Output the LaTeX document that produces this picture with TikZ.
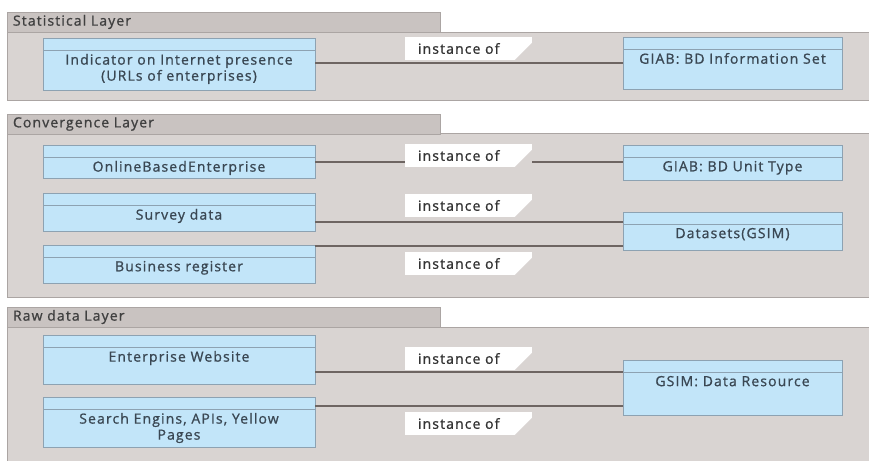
\documentclass[tikz,border=0pt]{standalone}
\usepackage{fontspec}
\setmainfont{Open Sans}[LetterSpace=8,FakeBold=1]
\definecolor{layerfill}{HTML}{D9D4D2}
\definecolor{tabfill}{HTML}{C9C3C1}
\definecolor{layerline}{HTML}{ABA5A3}
\definecolor{clsfill}{HTML}{C2E5F9}
\definecolor{clsline}{HTML}{8DA2B2}
\definecolor{clstext}{HTML}{3A4753}
\definecolor{assoc}{HTML}{6E6562}

\begin{document}
\begin{tikzpicture}
[x=1pt,y=-1pt,
every node/.style={inner sep=0pt,outer sep=0pt,font=\fontsize{14}{16}\selectfont},
layer/.style={fill=layerfill,draw=layerline,line width=.8pt,anchor=north west,minimum width=863pt},
tab/.style={fill=tabfill,draw=layerline,line width=.8pt,anchor=north west,minimum height=20pt,
  text width=421pt,inner xsep=6pt,align=left,text=black!75},
cls/.style={draw=clsline,fill=clsfill,line width=.8pt,anchor=north west,
  label={[clslabel]north:{#1}},
  path picture={\draw[clsline,line width=.8pt]
    ([yshift=-12pt]path picture bounding box.north west) --
    ([yshift=-12pt]path picture bounding box.north east);}},
clslabel/.style={anchor=north,yshift=-16pt,align=center,text=clstext},
inst/.style={fill=white,minimum height=23pt,text width=101pt,inner xsep=13pt,align=left,
  text=black!80,pos=.292,
  path picture={\fill[layerfill] (path picture bounding box.south east) -- ++(-17pt,0pt) -- ++(17pt,17pt) -- cycle;}},
assocline/.style={draw=assoc,line width=1.4pt},
]
\useasboundingbox (0,0) rectangle (869,460);

\node[layer,minimum height=68pt] (statl) at (7,32) {};
\node[tab] (stattab) at (7,12) {Statistical Layer};
\node[layer,minimum height=164pt] (convl) at (7,133) {};
\node[tab] (convtab) at (7,114) {Convergence Layer};
\node[layer,minimum height=135pt] (rawl) at (7,327) {};
\node[tab] (rawtab) at (7,307) {Raw data Layer};

\node[cls={Indicator on Internet presence\\(URLs of enterprises)},minimum width=272pt,minimum height=52pt] (ind) at (43,38) {};
\node[cls={GIAB: BD Information Set},minimum width=219pt,minimum height=52pt] (infoset) at (623,37) {};

\node[cls={OnlineBasedEnterprise},minimum width=272pt,minimum height=33pt] (online) at (43,145) {};
\node[cls={Survey data},minimum width=272pt,minimum height=38pt] (survey) at (43,193) {};
\node[cls={Business register},minimum width=272pt,minimum height=38pt] (busreg) at (43,245) {};
\node[cls={GIAB: BD Unit Type},minimum width=219pt,minimum height=35pt] (unittype) at (623,145) {};
\node[cls={Datasets(GSIM)},minimum width=219pt,minimum height=38pt] (datasets) at (623,212) {};

\node[cls={Enterprise Website},minimum width=272pt,minimum height=49pt] (website) at (43,335) {};
\node[cls={Search Engins, APIs, Yellow\\Pages},minimum width=272pt,minimum height=50pt] (search) at (43,397) {};
\node[cls={GSIM: Data Resource},minimum width=219pt,minimum height=55pt] (resource) at (623,360) {};

\draw[assocline] ([yshift=1pt]ind.east) coordinate (i1) -- (i1 -| infoset.west)
  node[inst,anchor=south west,yshift=3pt] (inst1) {instance of};
\draw[assocline] ([yshift=-.5pt]online.east) coordinate (o1) -- (o1 -| unittype.west)
  node[inst,anchor=south west,yshift=-5pt] (inst2) {instance of};
\draw[assocline] ([yshift=9pt]survey.south east) coordinate (s1) -- (s1 -| datasets.west)
  node[inst,anchor=south west,yshift=5pt] (inst3) {instance of};
\draw[assocline] ([yshift=-1pt]busreg.north east) coordinate (b1) -- (b1 -| datasets.west)
  node[inst,anchor=north west,yshift=-6pt] (inst4) {instance of};
\draw[assocline] ([yshift=12pt]website.south east) coordinate (w1) -- (w1 -| resource.west)
  node[inst,anchor=south west,yshift=2pt] (inst5) {instance of};
\draw[assocline] ([yshift=-9pt]search.north east) coordinate (e1) -- (e1 -| resource.west)
  node[inst,anchor=north west,yshift=-6pt] (inst6) {instance of};
\end{tikzpicture}
\end{document}
